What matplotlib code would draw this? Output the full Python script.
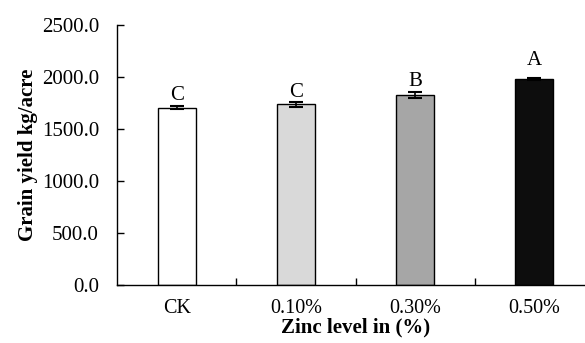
import matplotlib.pyplot as plt
import numpy as np

levels = ["CK", "0.10%", "0.30%", "0.50%"]
yield_kg = [1705, 1738, 1827, 1981]
err = [12, 24, 30, 14]
letters = ["C", "C", "B", "A"]
letter_y = [1780, 1810, 1912, 2115]
colors = ["white", "#d9d9d9", "#a6a6a6", "#0d0d0d"]

plt.rcParams["font.family"] = ["Liberation Serif", "DejaVu Serif"]

fig = plt.figure(figsize=(5.85, 3.43), dpi=100)
ax = fig.add_axes([117 / 585, (343 - 285) / 343, 477 / 585, 260 / 343])

x = np.arange(len(levels))
ax.bar(x, yield_kg, width=0.32, color=colors, edgecolor="black", linewidth=1.0,
       yerr=err, capsize=5, error_kw=dict(elinewidth=1.2, capthick=1.5, ecolor="black"))
for xi, ly, t in zip(x, letter_y, letters):
    ax.text(xi, ly, t, ha="center", va="baseline", fontsize=15)

ax.set_xlim(-0.5, 3.5)
ax.set_ylim(0, 2500)
ax.set_yticks(np.arange(0, 2501, 500))
ax.set_yticklabels([f"{v:.1f}" for v in np.arange(0, 2501, 500)])
ax.set_xticks(x)
ax.set_xticklabels(levels)
ax.tick_params(axis="x", length=0, pad=10, labelsize=14.5)
ax.set_xticks([0.5, 1.5, 2.5], minor=True)
ax.tick_params(axis="x", which="minor", direction="in", length=5, width=1)
ax.tick_params(axis="y", direction="in", length=5, width=1, labelsize=15, pad=13)
for s in ["top", "right"]:
    ax.spines[s].set_visible(False)
for s in ["left", "bottom"]:
    ax.spines[s].set_linewidth(1.0)

ax.set_xlabel("Zinc level in (%)", fontsize=15, fontweight="bold", labelpad=0)
ax.set_ylabel("Grain yield kg/acre", fontsize=15, fontweight="bold", labelpad=3)

fig.savefig("out.png", dpi=100)
